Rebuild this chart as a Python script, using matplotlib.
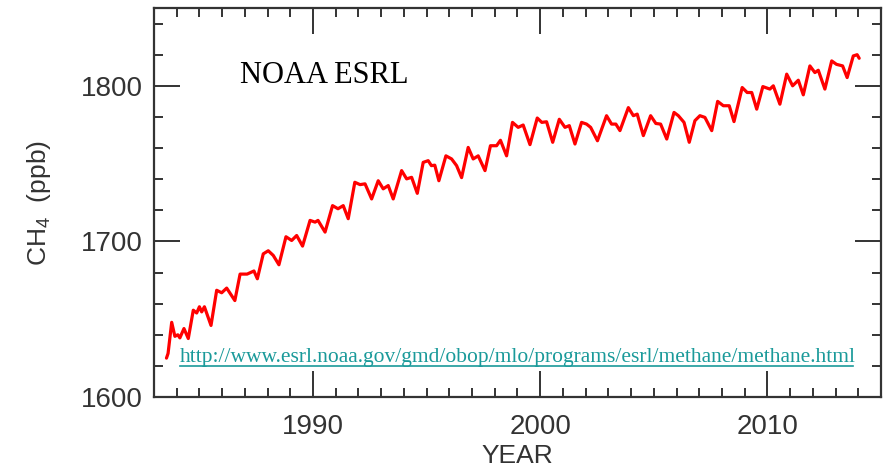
import matplotlib
matplotlib.use('Agg')
import matplotlib.pyplot as plt
from matplotlib.ticker import MultipleLocator
from matplotlib.lines import Line2D

# Mauna Loa monthly CH4, sampled at the seasonal peaks and dips
years = [1983.55, 1983.62, 1983.78, 1983.92, 1984.05, 1984.14, 1984.32, 1984.51,
         1984.73, 1984.88, 1985.00, 1985.10, 1985.22, 1985.51, 1985.76, 1985.98,
         1986.20, 1986.56, 1986.79, 1987.10, 1987.40, 1987.55, 1987.81, 1988.03,
         1988.25, 1988.50, 1988.81, 1989.06, 1989.28, 1989.54, 1989.87, 1990.09,
         1990.22, 1990.53, 1990.86, 1991.10, 1991.33, 1991.55, 1991.84, 1992.07,
         1992.29, 1992.58, 1992.87, 1993.09, 1993.31, 1993.53, 1993.90, 1994.12,
         1994.34, 1994.59, 1994.85, 1995.07, 1995.21, 1995.36, 1995.54, 1995.85,
         1996.10, 1996.32, 1996.54, 1996.83, 1997.05, 1997.27, 1997.57, 1997.81,
         1998.08, 1998.25, 1998.52, 1998.78, 1999.03, 1999.25, 1999.55, 1999.87,
         2000.07, 2000.28, 2000.55, 2000.84, 2001.09, 2001.28, 2001.53, 2001.82,
         2002.04, 2002.22, 2002.52, 2002.92, 2003.14, 2003.33, 2003.51, 2003.88,
         2004.10, 2004.27, 2004.54, 2004.86, 2005.09, 2005.30, 2005.57, 2005.89,
         2006.08, 2006.33, 2006.56, 2006.81, 2007.03, 2007.25, 2007.55, 2007.81,
         2008.06, 2008.32, 2008.53, 2008.89, 2009.11, 2009.31, 2009.53, 2009.80,
         2010.11, 2010.26, 2010.55, 2010.85, 2011.11, 2011.36, 2011.58, 2011.87,
         2012.09, 2012.24, 2012.53, 2012.83, 2013.04, 2013.31, 2013.51, 2013.78,
         2013.95, 2014.04]
ch4 = [1625.0, 1628.0, 1648.0, 1639.0, 1640.0, 1638.0, 1644.0, 1637.6,
       1655.8, 1654.0, 1658.0, 1654.7, 1658.0, 1646.0, 1668.6, 1667.0,
       1670.0, 1662.0, 1679.0, 1679.0, 1681.0, 1676.0, 1692.0, 1694.0,
       1691.0, 1685.0, 1703.0, 1700.6, 1703.8, 1697.0, 1713.5, 1712.4,
       1713.5, 1706.0, 1723.0, 1721.0, 1723.0, 1714.6, 1738.0, 1736.5,
       1737.0, 1727.3, 1739.0, 1733.8, 1735.9, 1727.3, 1745.5, 1740.2,
       1741.2, 1730.9, 1750.8, 1751.9, 1748.7, 1749.0, 1739.0, 1755.0,
       1753.0, 1748.7, 1741.0, 1760.4, 1753.0, 1755.0, 1745.5, 1761.5,
       1761.5, 1765.0, 1755.0, 1776.5, 1773.3, 1774.8, 1762.2, 1779.3,
       1776.5, 1776.9, 1763.7, 1778.5, 1773.3, 1774.4, 1762.6, 1776.5,
       1775.4, 1773.3, 1764.7, 1780.8, 1775.4, 1775.4, 1771.2, 1786.0,
       1780.8, 1781.8, 1768.0, 1780.8, 1775.8, 1775.4, 1765.8, 1782.9,
       1780.8, 1776.5, 1763.7, 1777.6, 1780.8, 1779.7, 1771.2, 1790.0,
       1787.2, 1787.2, 1777.0, 1798.9, 1795.7, 1795.7, 1785.0, 1799.5,
       1797.9, 1800.0, 1788.2, 1807.5, 1800.0, 1803.6, 1794.2, 1812.8,
       1808.5, 1810.0, 1797.9, 1816.0, 1813.8, 1812.8, 1805.3, 1819.2,
       1820.0, 1817.7]

url = 'http://www.esrl.noaa.gov/gmd/obop/mlo/programs/esrl/methane/methane.html'

plt.rcParams['font.family'] = ['Liberation Sans', 'DejaVu Sans']
plt.rcParams['mathtext.fontset'] = 'custom'
plt.rcParams['mathtext.rm'] = 'Liberation Sans'
plt.rcParams['mathtext.it'] = 'Liberation Sans'

axcol = '#333333'
linkcol = '#1a9a9a'
fig = plt.figure(figsize=(8.89, 4.74), dpi=100)
ax = fig.add_axes([0.1732, 0.1624, 0.8178, 0.8207])

ax.plot(years, ch4, color='#ff0000', linewidth=2.3,
        solid_joinstyle='round', solid_capstyle='round')

ax.set_xlim(1983, 2015)
ax.set_ylim(1600, 1850)
ax.xaxis.set_major_locator(MultipleLocator(10))
ax.xaxis.set_minor_locator(MultipleLocator(1))
ax.yaxis.set_major_locator(MultipleLocator(100))
ax.yaxis.set_minor_locator(MultipleLocator(20))
ax.tick_params(which='both', direction='in', top=True, right=True,
               color=axcol, width=1.4, labelcolor=axcol, labelsize=20)
ax.tick_params(which='major', length=19)
ax.tick_params(which='minor', length=6.5)
ax.tick_params(axis='x', pad=12)
ax.tick_params(axis='y', pad=8)
for s in ax.spines.values():
    s.set_color(axcol)
    s.set_linewidth(1.6)

ax.set_xlabel('YEAR', fontsize=19, color=axcol, labelpad=3)
ax.set_ylabel('CH$_4$  (ppb)', fontsize=19, color=axcol, labelpad=20)

ax.text(0.118, 0.807, 'NOAA ESRL', transform=ax.transAxes, fontsize=22,
        family='Liberation Serif', color='black', va='baseline')
link = ax.text(0.0358, 0.09, url, transform=ax.transAxes, fontsize=15.5,
               family='Liberation Serif', color=linkcol, va='baseline')

# underline the link
fig.canvas.draw()
bb = link.get_window_extent().transformed(fig.transFigure.inverted())
uy = bb.y0 + 0.003
fig.add_artist(Line2D([bb.x0, bb.x1 - 0.003], [uy, uy], transform=fig.transFigure,
                      color=linkcol, linewidth=1.2))

fig.savefig('out.png', dpi=100)
